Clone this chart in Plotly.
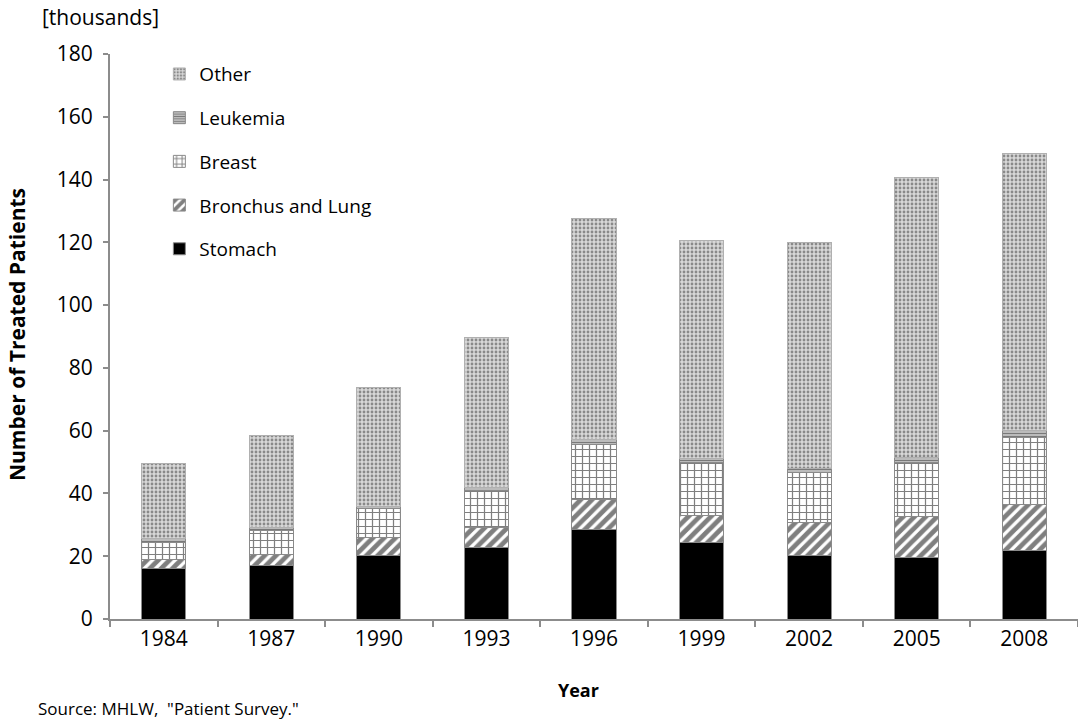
import plotly.graph_objects as go

years = ["1984", "1987", "1990", "1993", "1996", "1999", "2002", "2005", "2008"]

# Number of treated patients by site (thousands), stacked from the bottom up
stomach = [16.2, 17.0, 20.2, 22.8, 28.5, 24.3, 20.2, 19.6, 21.8]
bronchus_lung = [2.9, 3.7, 5.9, 6.4, 9.5, 8.7, 10.4, 13.1, 14.6]
breast = [5.4, 7.5, 9.1, 11.8, 17.7, 16.9, 16.2, 17.3, 21.4]
leukemia = [1.0, 1.1, 0.7, 0.9, 1.4, 1.2, 1.3, 1.3, 2.3]
other = [24.2, 29.2, 37.7, 47.7, 70.4, 69.4, 71.7, 89.5, 88.1]

font_family = "Open Sans, Lato, DejaVu Sans, sans-serif"
outline = dict(color="#8a8a8a", width=1)

series = [
    ("Stomach", stomach, dict(color="black", line=outline)),
    ("Bronchus and Lung", bronchus_lung,
     dict(color="white", line=outline,
          pattern=dict(shape="/", fgcolor="black", bgcolor="white", size=8, solidity=0.6))),
    ("Breast", breast,
     dict(color="white", line=outline,
          pattern=dict(shape="+", fgcolor="black", bgcolor="white", size=7, solidity=0.32))),
    ("Leukemia", leukemia,
     dict(color="white", line=outline,
          pattern=dict(shape="-", fgcolor="#222222", bgcolor="#d0d0d0", size=3, solidity=0.5))),
    ("Other", other,
     dict(color="#d0d0d0", line=dict(color="#b0b0b0", width=1),
          pattern=dict(shape=".", fgcolor="#3a3a3a", bgcolor="#d8d8d8", size=4, solidity=0.4))),
]

fig = go.Figure()
n = len(series)
for i, (name, values, marker) in enumerate(series):
    fig.add_trace(go.Bar(
        x=years, y=values, name=name, marker=marker,
        legendgroup=name, legendrank=n - i,
    ))

fig.update_layout(
    width=1078, height=724,
    margin=dict(l=110, r=0, t=54, b=105),
    paper_bgcolor="white", plot_bgcolor="white",
    barmode="stack", bargap=0.59,
    font=dict(family=font_family, size=21, color="black"),
    showlegend=True,
    legend=dict(
        traceorder="grouped", tracegroupgap=16,
        x=0.051, y=0.998, xanchor="left", yanchor="top",
        bgcolor="rgba(0,0,0,0)", font=dict(size=19),
    ),
    xaxis=dict(
        range=[-0.5, 8.5], showline=True, linecolor="#8c8c8c", linewidth=2,
        ticks="outside", tickson="boundaries", ticklen=6, tickcolor="#8c8c8c",
        tickwidth=2, showgrid=False, tickfont=dict(size=21),
    ),
    yaxis=dict(
        range=[0, 180], dtick=20, showline=True, linecolor="#8c8c8c", linewidth=2,
        ticks="outside", ticklen=5, tickcolor="#8c8c8c", tickwidth=2,
        ticklabelstandoff=6,
        showgrid=False, zeroline=False, tickfont=dict(size=21),
    ),
    annotations=[
        dict(text="[thousands]", xref="paper", yref="paper",
             x=(40 - 110) / 968, y=(619 - 17) / 565, xanchor="left", yanchor="middle",
             showarrow=False, font=dict(size=21)),
        dict(text="<b>Number of Treated Patients</b>", xref="paper", yref="paper",
             x=(17 - 110) / 968, y=(619 - 335) / 565, xanchor="center", yanchor="middle",
             textangle=-90, showarrow=False, font=dict(size=21)),
        dict(text="<b>Year</b>", xref="paper", yref="paper",
             x=(578 - 110) / 968, y=(619 - 690) / 565, xanchor="center", yanchor="middle",
             showarrow=False, font=dict(size=18)),
        dict(text='Source: MHLW,  "Patient Survey."', xref="paper", yref="paper",
             x=(36 - 110) / 968, y=(619 - 708) / 565, xanchor="left", yanchor="middle",
             showarrow=False, font=dict(size=17)),
    ],
)

fig.write_html("out.html")
